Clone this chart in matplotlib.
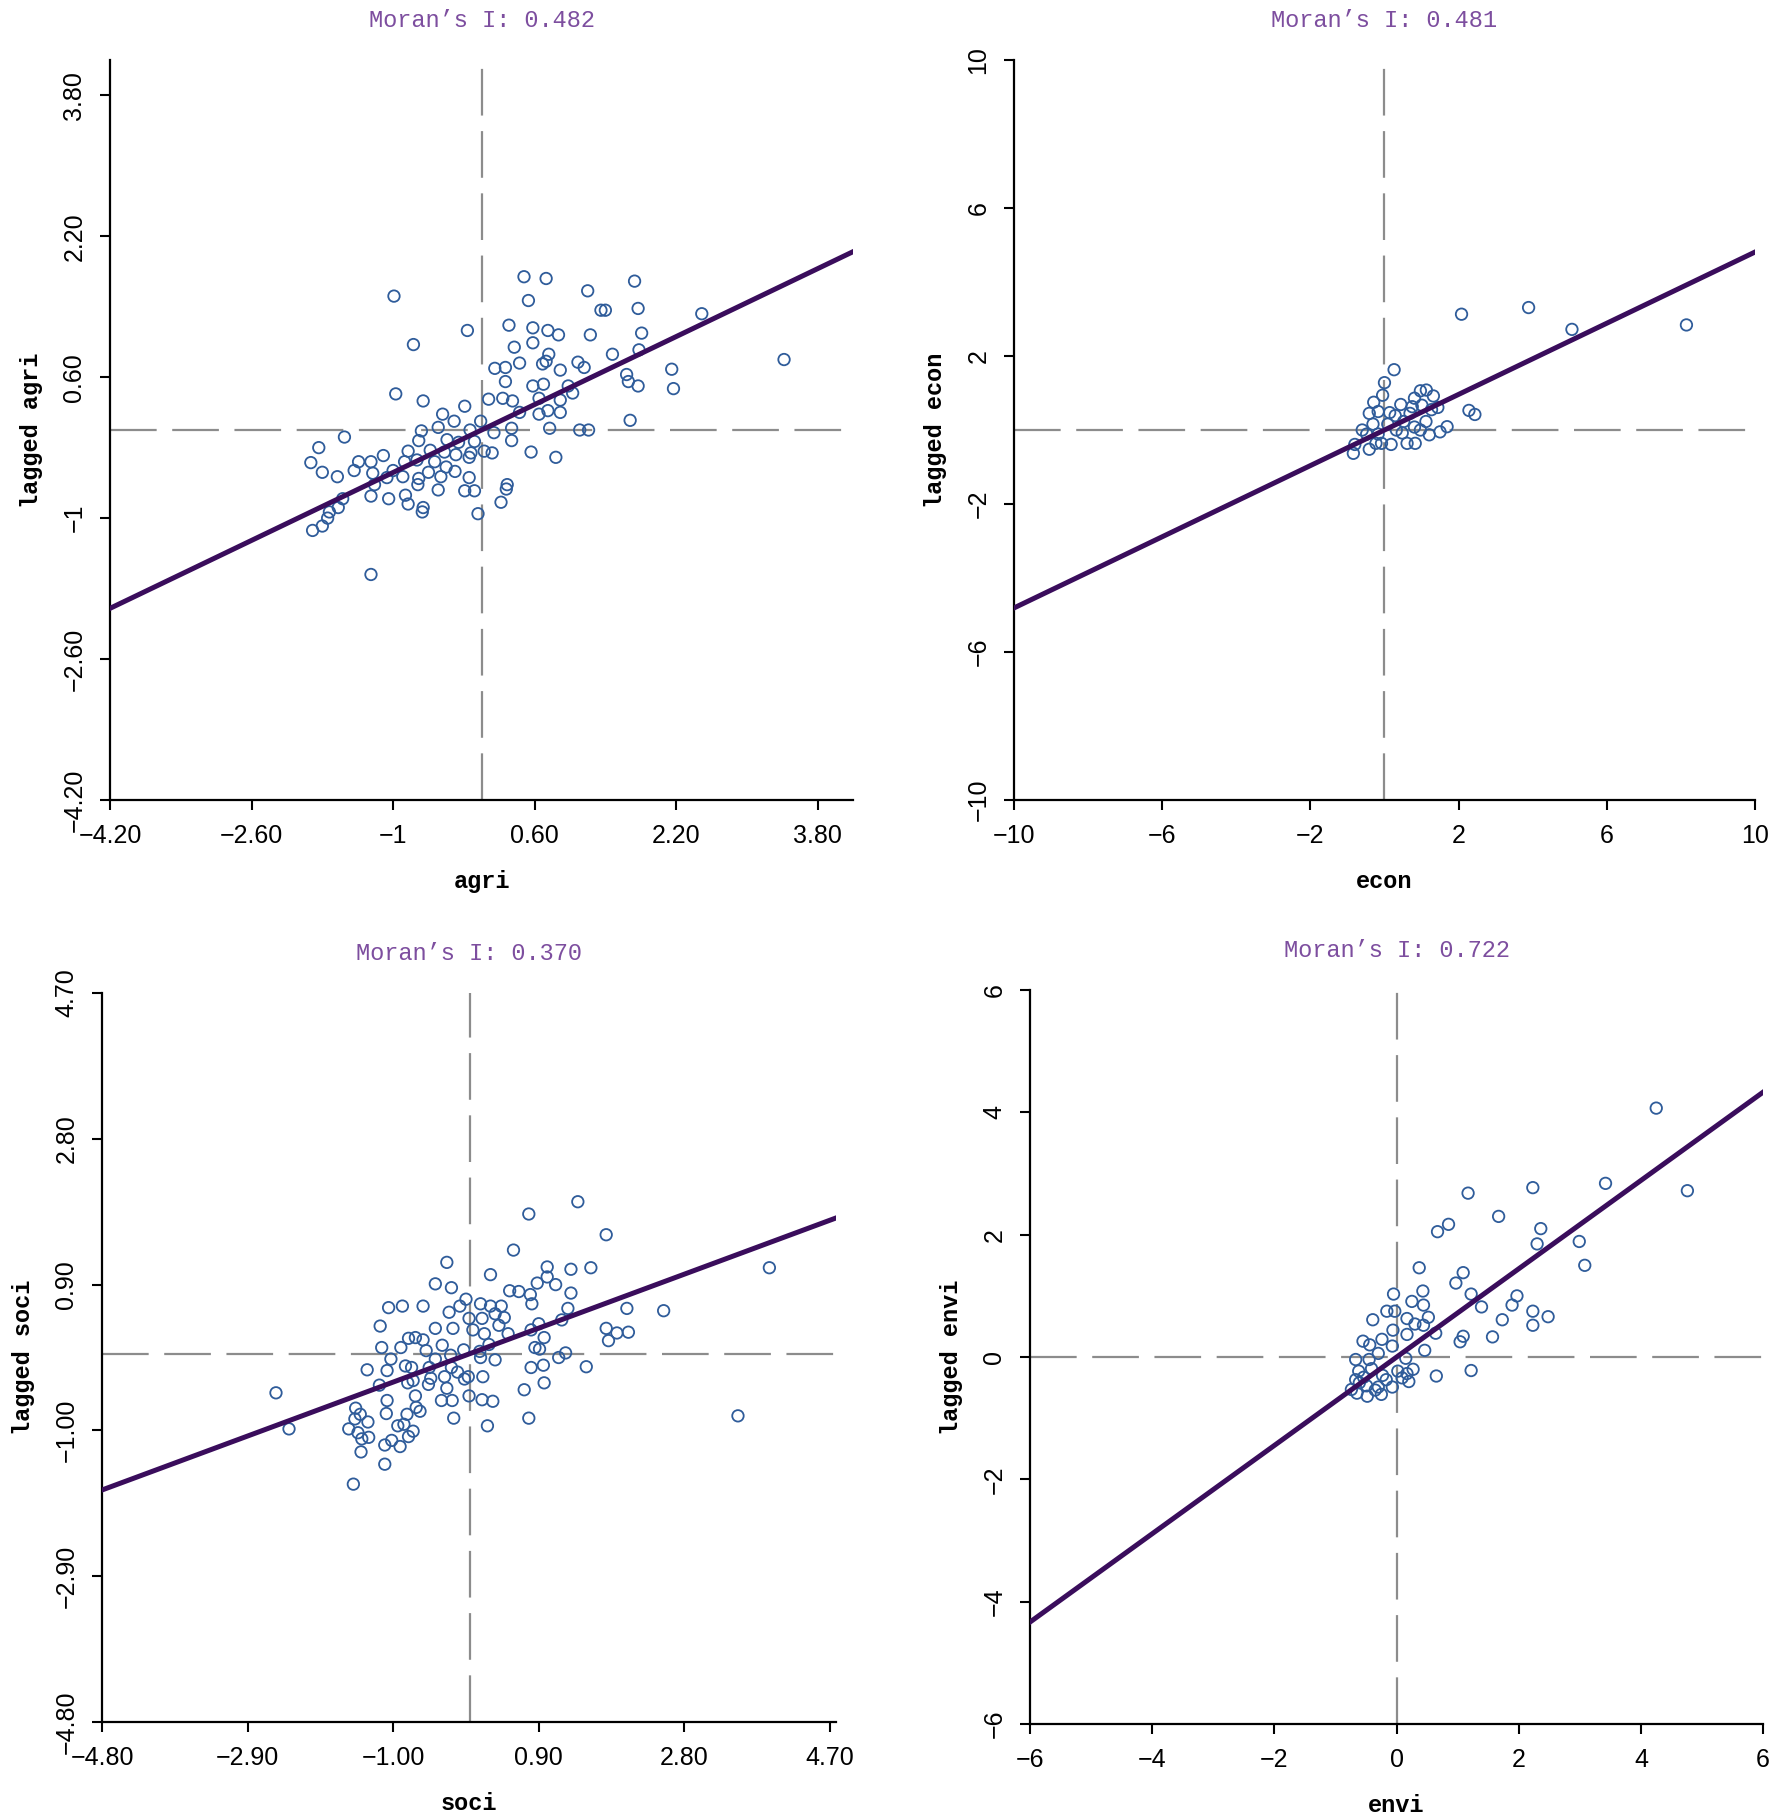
"""
Moran scatter plots for the four sub-indices (agri, econ, soci, envi).
"""

import matplotlib.pyplot as plt

# Moran's I of each variable (also the slope of the fitted line)
MORANS_I = [0.482, 0.481, 0.370, 0.722]
VARIABLES = ["agri", "econ", "soci", "envi"]

AGRI_X = [0.48, 0.73, 1.20, 1.73, -0.99, 0.53, 1.35, 1.40, 1.77, 2.49, -0.16, 0.31, 0.58,
          0.75, 0.87, 1.81, 1.23, -0.77, 0.58, 0.37, 0.76, 1.48, 1.78, 3.42, 0.15, 0.27,
          0.43, 0.69, 0.73, 0.89, 1.09, 1.16, 1.64, 2.15, 0.27, 0.58, 0.70, 0.98, 1.66,
          1.77, 2.17, -0.97, -0.66, 0.08, 0.24, 0.35, 0.65, 0.89, 1.03, -0.19, 0.43, 0.65,
          0.75, 0.89, -0.44, 1.68, -0.31, -0.01, -0.49, -0.68, -0.13, 0.34, 0.77, 1.11,
          1.21, -1.55, -1.84, -0.71, -0.39, -0.26, -0.08, 0.34, 0.14, -0.83, -0.58, -0.42,
          -0.29, -0.12, 0.03, 0.12, 0.56, 0.84, -1.93, -1.39, -1.25, -1.11, -0.87, -0.73,
          -0.53, -0.40, -0.30, -0.14, -1.80, -1.63, -1.44, -1.23, -1.00, -0.89, -0.71,
          -0.60, -0.46, -0.14, -1.21, -1.07, -0.86, -0.72, -0.49, -0.19, -0.08, 0.29, 0.28,
          -1.57, -1.25, -1.05, -0.83, -0.66, -0.67, 0.22, -0.04, -1.72, -1.62, -1.91,
          -1.80, -1.74, -1.25]
AGRI_Y = [1.74, 1.72, 1.58, 1.69, 1.52, 1.47, 1.36, 1.36, 1.38, 1.32, 1.13, 1.19, 1.16,
          1.13, 1.08, 1.10, 1.08, 0.97, 0.99, 0.94, 0.86, 0.86, 0.91, 0.80, 0.70, 0.71,
          0.76, 0.75, 0.78, 0.68, 0.77, 0.71, 0.63, 0.69, 0.55, 0.50, 0.52, 0.50, 0.55,
          0.50, 0.47, 0.41, 0.33, 0.35, 0.36, 0.33, 0.36, 0.34, 0.42, 0.27, 0.20, 0.18,
          0.22, 0.20, 0.18, 0.11, 0.10, 0.10, 0.03, -0.01, 0.00, 0.02, 0.02, 0.00,
          0.00, -0.08, -0.20, -0.12, -0.11, -0.14, -0.13, -0.12, -0.03, -0.24, -0.23, -0.25,
          -0.28, -0.26, -0.24, -0.26, -0.25, -0.31, -0.37, -0.36, -0.36, -0.29, -0.36, -0.34,
          -0.36, -0.42, -0.47, -0.31, -0.48, -0.53, -0.46, -0.49, -0.46, -0.53, -0.55,
          -0.48, -0.53, -0.54, -0.62, -0.54, -0.74, -0.62, -0.68, -0.69, -0.69, -0.62, -0.67,
          -0.78, -0.75, -0.78, -0.84, -0.88, -0.93, -0.82, -0.95, -0.93, -0.88, -1.14,
          -1.09, -1.00, -1.64]

ECON_X = [2.08, 3.89, 5.06, 8.15, 0.26, 0.00, -0.05, -0.29, 0.97, 1.13, 1.32, 0.44, 0.75,
          1.01, 1.44, 2.28, 2.44, 0.69, -0.41, -0.17, 0.14, -0.31, 0.09, 0.52, 1.12, 1.69,
          1.50, 1.21, -0.60, -0.48, -0.17, 0.32, -0.23, -0.08, 0.18, 0.61, 0.83, -0.80,
          -0.41, -0.84, 0.81, 0.97, 0.48, 0.29, 0.81, 1.27]
ECON_Y = [3.13, 3.31, 2.72, 2.84, 1.63, 1.28, 0.94, 0.75, 1.06, 1.08, 0.92, 0.69, 0.63,
          0.67, 0.61, 0.53, 0.42, 0.45, 0.45, 0.50, 0.47, 0.16, 0.16, 0.23, 0.23, 0.09,
          -0.05, -0.13, 0.00, -0.11, -0.11, 0.00, -0.36, -0.36, -0.39, -0.36, -0.36, -0.39,
          -0.52, -0.63, 0.08, 0.00, -0.08, 0.39, 0.86, 0.55]

SOCI_X = [1.41, 0.77, 1.78, 0.57, -0.30, 3.91, 0.27, 1.01, 1.32, 1.58, -0.45, -0.24, 0.88,
          1.01, 1.12, 0.52, 0.64, 0.79, 0.81, 1.32, -1.06, -0.88, -0.61, -0.27, -0.13, -0.05,
          0.14, 0.27, 0.41, -0.01, 0.16, 0.33, 0.45, 1.28, 2.05, 2.53, -1.17, -0.22, -0.45,
          0.04, 0.19, 0.38, 0.50, 0.80, 0.90, 1.20, 1.78, 1.92, 2.07, 1.81, -0.80, -0.71,
          -0.61, -0.90, -1.15, -0.57, -0.36, -0.25, -0.08, 0.13, 0.25, 0.85, 0.97, 0.91,
          1.16, 1.25, -1.03, -0.84, -0.76, -0.53, -0.45, -0.24, 0.14, 0.33, -1.34, -1.08,
          -0.74, -0.51, -0.33, -0.16, -0.02, 0.17, 0.80, 0.96, 1.52, -1.18, -0.81, -0.54,
          -0.30, -0.07, 0.97, 0.71, -2.53, -0.71, -0.37, -0.23, -0.01, 0.16, 0.30, -0.70,
          -0.65, -1.08, -1.49, -1.43, -1.50, -1.33, -1.09, -0.82, -0.21, 0.77, 3.50, -2.36,
          -1.58, -1.46, -1.32, -1.41, -1.11, -1.02, -0.94, -0.86, -0.74, -0.91, -0.80, 0.23,
          -1.42, -1.11, -1.52]
SOCI_Y = [1.98, 1.82, 1.55, 1.35, 1.19, 1.12, 1.03, 1.13, 1.10, 1.12, 0.91, 0.86, 0.92,
          1.00, 0.90, 0.82, 0.81, 0.77, 0.65, 0.79, 0.60, 0.62, 0.62, 0.54, 0.62, 0.71,
          0.65, 0.62, 0.62, 0.46, 0.46, 0.52, 0.47, 0.59, 0.59, 0.56, 0.36, 0.33, 0.33,
          0.31, 0.26, 0.37, 0.26, 0.31, 0.39, 0.44, 0.33, 0.27, 0.28, 0.17, 0.20, 0.21,
          0.18, 0.08, 0.08, 0.04, 0.11, -0.02, 0.05, 0.03, 0.12, 0.08, 0.21, 0.06,
          -0.05, 0.01, -0.07, -0.16, -0.18, -0.18, -0.07, -0.18, -0.05, -0.08, -0.21, -0.22,
          -0.35, -0.32, -0.30, -0.24, -0.30, -0.30, -0.18, -0.15, -0.17, -0.41, -0.38, -0.40,
          -0.45, -0.33, -0.38, -0.47, -0.51, -0.55, -0.61, -0.61, -0.55, -0.60, -0.62, -0.70,
          -0.75, -0.61, -0.71, -0.79, -0.85, -0.89, -0.78, -0.79, -0.84, -0.84, -0.81, -0.98,
          -0.98, -1.03, -1.09, -1.11, -1.19, -1.13, -0.94, -0.92, -1.01, -1.21, -1.08, -0.94,
          -1.28, -1.44, -1.70]

ENVI_X = [4.25, 3.42, 4.76, 2.23, 1.17, 1.67, 2.36, 2.30, 2.99, 3.08, 0.67, 0.85, 0.37,
          1.09, 0.97, 1.22, 1.97, 1.89, 1.39, 2.23, 2.48, 1.73, 2.23, -0.05, 0.43, 0.25,
          0.44, -0.16, -0.03, 0.17, 0.52, -0.39, 0.30, 0.44, -0.06, 0.17, 0.64, 1.09, 1.04,
          1.57, -0.24, -0.55, -0.44, -0.07, 0.46, -0.30, -0.67, -0.45, 0.15, -0.62, -0.41,
          0.02, 0.17, 0.27, 0.65, 1.22, -0.23, 0.09, 0.20, -0.67, -0.49, -0.30, -0.07,
          -0.74, -0.65, -0.48, -0.25, -0.61, -0.35, -0.17, -0.54]
ENVI_Y = [4.07, 2.84, 2.72, 2.77, 2.68, 2.30, 2.10, 1.85, 1.89, 1.50, 2.05, 2.17, 1.46,
          1.38, 1.21, 1.03, 1.00, 0.85, 0.82, 0.75, 0.66, 0.61, 0.52, 1.03, 1.08, 0.91,
          0.85, 0.75, 0.75, 0.63, 0.65, 0.61, 0.54, 0.52, 0.44, 0.37, 0.39, 0.34, 0.25,
          0.33, 0.29, 0.26, 0.20, 0.18, 0.11, 0.06, -0.04, -0.04, -0.02, -0.23, -0.19,
          -0.23, -0.27, -0.20, -0.31, -0.22, -0.30, -0.34, -0.40, -0.37, -0.47, -0.49, -0.49,
          -0.53, -0.59, -0.64, -0.61, -0.42, -0.54, -0.37, -0.33]

AGRI_TICKS = [-4.2, -2.6, -1.0, 0.6, 2.2, 3.8]
AGRI_LABELS = ["\u22124.20", "\u22122.60", "\u22121", "0.60", "2.20", "3.80"]
ECON_TICKS = [-10, -6, -2, 2, 6, 10]
ECON_LABELS = ["\u221210", "\u22126", "\u22122", "2", "6", "10"]
SOCI_TICKS = [-4.8, -2.9, -1.0, 0.9, 2.8, 4.7]
SOCI_LABELS = ["\u22124.80", "\u22122.90", "\u22121.00", "0.90", "2.80", "4.70"]
ENVI_TICKS = [-6, -4, -2, 0, 2, 4, 6]
ENVI_LABELS = ["\u22126", "\u22124", "\u22122", "0", "2", "4", "6"]

TITLE_COLOR = "#7d4e9f"
LINE_COLOR = "#3a0d5c"
POINT_COLOR = "#2f5c9a"
TICK_FONT = "Liberation Sans"
LABEL_FONT = "Liberation Mono"

fig = plt.figure(figsize=(17.72, 18.19), dpi=100)

# (axes rect, x data, y data, ticks, tick labels, xlim, ylim)
panels = [
    ([0.0621, 0.5602, 0.4193, 0.4068], AGRI_X, AGRI_Y, AGRI_TICKS, AGRI_LABELS,
     (-4.2, 4.2), (-4.2, 4.2)),
    ([0.5722, 0.5602, 0.4182, 0.4068], ECON_X, ECON_Y, ECON_TICKS, ECON_LABELS,
     (-10, 10), (-10, 10)),
    ([0.0576, 0.0533, 0.4142, 0.4008], SOCI_X, SOCI_Y, SOCI_TICKS, SOCI_LABELS,
     (-4.8, 4.78), (-4.8, 4.7)),
    ([0.5813, 0.0522, 0.4137, 0.4035], ENVI_X, ENVI_Y, ENVI_TICKS, ENVI_LABELS,
     (-6, 6), (-6, 6)),
]

for i, (rect, xs, ys, ticks, labels, xlim, ylim) in enumerate(panels):
    ax = fig.add_axes(rect)
    name = VARIABLES[i]
    slope = MORANS_I[i]

    # quadrant lines
    ax.axhline(0, color="#8c8c8c", linewidth=1.6, dashes=(21, 7), zorder=1)
    ax.axvline(0, color="#8c8c8c", linewidth=1.6, dashes=(21, 7), zorder=1)

    ax.scatter(xs, ys, s=68, facecolors="none", edgecolors=POINT_COLOR,
               linewidths=1.3, zorder=2)
    ax.axline((0, 0), slope=slope, color=LINE_COLOR, linewidth=3.6, zorder=3)

    ax.set_xlim(*xlim)
    ax.set_ylim(*ylim)
    ax.set_xticks(ticks, labels)
    ax.set_yticks(ticks, labels)

    for side in ["top", "right"]:
        ax.spines[side].set_visible(False)
    for side in ["left", "bottom"]:
        ax.spines[side].set_linewidth(1.6)

    ax.tick_params(length=7, width=1.5, pad=10, labelsize=18)
    ax.tick_params(axis="y", labelrotation=90)
    for lab in ax.get_xticklabels() + ax.get_yticklabels():
        lab.set_fontfamily(TICK_FONT)
    for lab in ax.get_yticklabels():
        lab.set_verticalalignment("center")

    ax.set_xlabel(name, fontsize=17, fontweight="bold", family=LABEL_FONT, labelpad=16)
    ax.set_ylabel("lagged " + name, fontsize=17, fontweight="bold", family=LABEL_FONT,
                  labelpad=14)
    ax.set_title("Moran\u2019s I: %.3f" % slope, fontsize=17, family=LABEL_FONT,
                 color=TITLE_COLOR, pad=24)

fig.savefig("out.png", dpi=100)
